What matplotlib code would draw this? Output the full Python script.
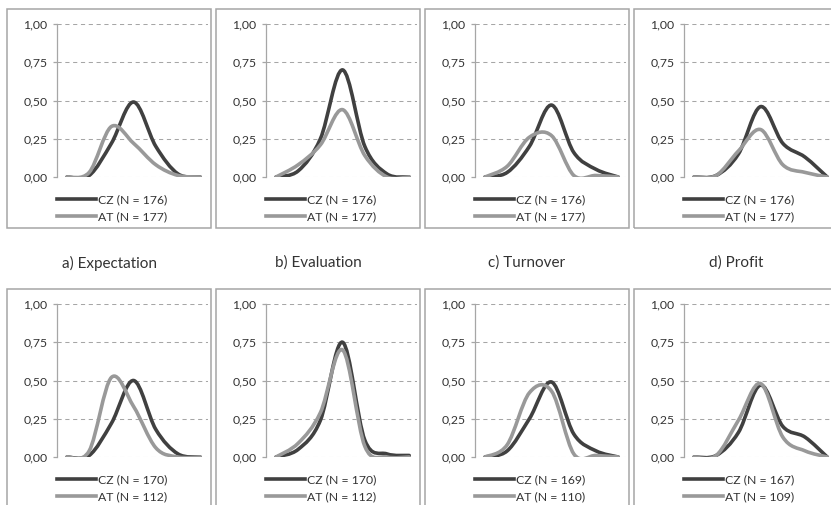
import numpy as np
import matplotlib
matplotlib.use('Agg')
import matplotlib.pyplot as plt
from matplotlib.path import Path
from matplotlib.patches import PathPatch, Rectangle
from matplotlib.lines import Line2D

# ------------------------------------------------------------
#  数据 (7 categories, shares)
# ------------------------------------------------------------
categories = [1, 2, 3, 4, 5, 6, 7]

cz_expectation = [0.00, 0.01, 0.22, 0.49, 0.20, 0.02, 0.00]
at_expectation = [0.00, 0.03, 0.33, 0.22, 0.08, 0.01, 0.00]
cz_evaluation = [0.00, 0.04, 0.25, 0.70, 0.20, 0.02, 0.00]
at_evaluation = [0.00, 0.08, 0.21, 0.44, 0.14, 0.00, 0.00]
cz_turnover = [0.00, 0.03, 0.20, 0.47, 0.16, 0.05, 0.00]
at_turnover = [0.00, 0.07, 0.26, 0.27, 0.01, 0.01, 0.00]
cz_profit = [0.00, 0.01, 0.15, 0.46, 0.22, 0.13, 0.00]
at_profit = [0.00, 0.01, 0.17, 0.31, 0.08, 0.03, 0.00]

cz_row2_a = [0.00, 0.01, 0.22, 0.50, 0.18, 0.02, 0.00]
at_row2_a = [0.00, 0.04, 0.52, 0.33, 0.06, 0.00, 0.00]
cz_row2_b = [0.00, 0.05, 0.24, 0.75, 0.11, 0.02, 0.01]
at_row2_b = [0.00, 0.09, 0.29, 0.70, 0.07, 0.00, 0.00]
cz_row2_c = [0.00, 0.04, 0.25, 0.49, 0.15, 0.04, 0.00]
at_row2_c = [0.00, 0.08, 0.42, 0.43, 0.02, 0.01, 0.00]
cz_row2_d = [0.00, 0.01, 0.16, 0.47, 0.20, 0.13, 0.00]
at_row2_d = [0.00, 0.01, 0.24, 0.48, 0.13, 0.04, 0.00]

cz_labels = ['CZ (N = 176)'] * 4 + ['CZ (N = 170)', 'CZ (N = 170)', 'CZ (N = 169)', 'CZ (N = 167)']
at_labels = ['AT (N = 177)'] * 4 + ['AT (N = 112)', 'AT (N = 112)', 'AT (N = 110)', 'AT (N = 109)']
captions = ['a) Expectation', 'b) Evaluation', 'c) Turnover', 'd) Profit']
y_ticks = [0.0, 0.25, 0.5, 0.75, 1.0]

cz_series = [cz_expectation, cz_evaluation, cz_turnover, cz_profit,
             cz_row2_a, cz_row2_b, cz_row2_c, cz_row2_d]
at_series = [at_expectation, at_evaluation, at_turnover, at_profit,
             at_row2_a, at_row2_b, at_row2_c, at_row2_d]

CZ_COLOR = '#404040'
AT_COLOR = '#999999'
FRAME = '#a6a6a6'
TEXT = '#333333'

plt.rcParams['font.family'] = ['Lato', 'DejaVu Sans']

W, H = 831, 505
fig = plt.figure(figsize=(W / 100, H / 100), dpi=100)


def fx(px):
    return px / W


def fy(py):
    return 1 - py / H


def smooth_path(x, y):
    # Excel-style smoothed line (Catmull-Rom as cubic Bezier)
    pts = np.column_stack([x, y]).astype(float)
    n = len(pts)
    verts = [pts[0]]
    codes = [Path.MOVETO]
    for i in range(n - 1):
        p0 = pts[max(i - 1, 0)]
        p1 = pts[i]
        p2 = pts[i + 1]
        p3 = pts[min(i + 2, n - 1)]
        verts += [p1 + (p2 - p0) / 6, p2 - (p3 - p1) / 6, p2]
        codes += [Path.CURVE4] * 3
    return Path(verts, codes)


box_lefts = [7, 216, 425, 634]
row_tops = [9, 289]
box_w, box_h = 204, 219

for k in range(8):
    row, col = divmod(k, 4)
    L = box_lefts[col]
    T = row_tops[row]

    # panel frame
    fig.patches.append(Rectangle((fx(L), fy(T + box_h)), box_w / W, box_h / H,
                                 transform=fig.transFigure, fill=False,
                                 edgecolor=FRAME, linewidth=1.1))

    ax_top = T + 15
    ax_bot = T + 168
    ax = fig.add_axes([fx(L + 50), fy(ax_bot), 151 / W, (ax_bot - ax_top) / H])
    ax.set_xlim(-0.45, 6.35)
    ax.set_ylim(0, 1)
    ax.patch.set_alpha(0)

    for yv in y_ticks:
        ax.axhline(yv, color=FRAME, lw=0.75, linestyle=(0, (4, 3.5)), zorder=1)

    x = np.arange(len(categories))
    ax.add_patch(PathPatch(smooth_path(x, at_series[k]), fill=False,
                           edgecolor=AT_COLOR, lw=2.6, capstyle='round',
                           joinstyle='round', zorder=3))
    ax.add_patch(PathPatch(smooth_path(x, cz_series[k]), fill=False,
                           edgecolor=CZ_COLOR, lw=2.6, capstyle='round',
                           joinstyle='round', zorder=2))

    for s in ['top', 'right', 'bottom']:
        ax.spines[s].set_visible(False)
    ax.spines['left'].set_color(FRAME)
    ax.spines['left'].set_linewidth(0.9)
    ax.set_xticks([])
    ax.set_yticks(y_ticks)
    ax.set_yticklabels([f'{v:.2f}'.replace('.', ',') for v in y_ticks])
    ax.tick_params(axis='y', length=3, color=FRAME, width=0.9,
                   labelsize=8.8, labelcolor=TEXT, pad=4)

    handles = [Line2D([], [], color=CZ_COLOR, lw=2.6),
               Line2D([], [], color=AT_COLOR, lw=2.6)]
    ax.legend(handles, [cz_labels[k], at_labels[k]], loc='upper left',
              bbox_to_anchor=(0.0, -0.115), frameon=False, borderpad=0,
              borderaxespad=0, handlelength=3.2, handletextpad=0.15,
              labelspacing=0.45, fontsize=8.8, labelcolor=TEXT)

    if row == 0:
        fig.text(fx(L + box_w / 2), fy(263), captions[col], ha='center',
                 va='center', fontsize=11, color=TEXT)

fig.savefig('out.png', dpi=100)
